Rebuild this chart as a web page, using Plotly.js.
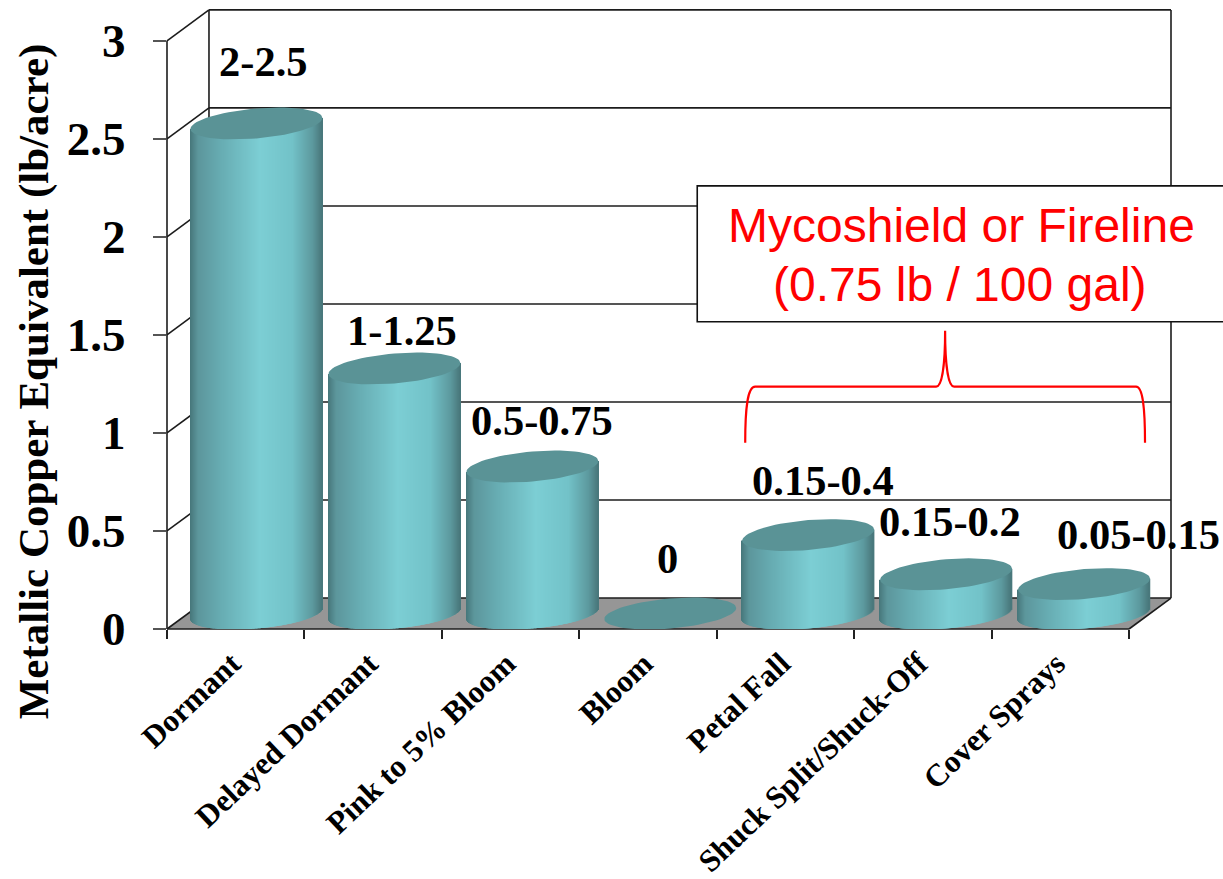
<!DOCTYPE html>
<html>
<head>
<meta charset="utf-8">
<script src="https://cdn.plot.ly/plotly-3.0.1.min.js"></script>
<style>html,body{margin:0;padding:0;background:#fff;overflow:hidden}#chart{width:1223px;height:879px}</style>
</head>
<body>
<div id="chart"></div>
<script>
// Seasonal copper rates by growth stage
const categories = ["Dormant", "Delayed Dormant", "Pink to 5% Bloom", "Bloom", "Petal Fall", "Shuck Split/Shuck-Off", "Cover Sprays"];
const upperRate = [2.5, 1.25, 0.75, 0, 0.4, 0.2, 0.15];
const rateLabels = ["2-2.5", "1-1.25", "0.5-0.75", "0", "0.15-0.4", "0.15-0.2", "0.05-0.15"];
const yTicks = [0, 0.5, 1, 1.5, 2, 2.5, 3];
const yTickText = ["0", "0.5", "1", "1.5", "2", "2.5", "3"];

// Page geometry of the pseudo-3D box
const W = 1223, H = 879;
const plotL = 166.5, plotT = 9, plotB = 629.5;
const catPx = 137.5, unitPx = 196.2, depthPxX = 42, depthPxY = 31;
const plotR = plotL + catPx * categories.length + depthPxX;
const depthX = depthPxX / catPx, depthY = depthPxY / unitPx;
const xMin = -0.5, xMax = categories.length - 0.5 + depthX;
const yMin = 0, yMax = (plotB - plotT) / unitPx;

const paperX = x => (x - xMin) / (xMax - xMin);
const paperY = y => (y - yMin) / (yMax - yMin);
const pxX = p => (p - plotL) / (plotR - plotL);
const pxY = p => (plotB - p) / (plotB - plotT);

// Cylinder proportions, in page pixels
const radiusPx = 66, minorPx = 15, tiltPx = 5.5, sliceCount = 132;
const firstCentrePx = 256, pitchPx = 138;
const centreOf = i => (firstCentrePx + pitchPx * i - plotL) / catPx + xMin;

const shadeStops = [
  [-1, [70, 118, 122]], [-0.88, [92, 150, 155]], [-0.5, [104, 174, 180]],
  [0.06, [124, 206, 212]], [0.55, [114, 194, 200]], [0.86, [92, 152, 157]], [1, [72, 118, 122]]
];
function shade(u) {
  for (let i = 1; i < shadeStops.length; i++) {
    const [u1, c1] = shadeStops[i], [u0, c0] = shadeStops[i - 1];
    if (u <= u1) {
      const t = (u - u0) / (u1 - u0);
      return `rgb(${c0.map((c, k) => Math.round(c + (c1[k] - c) * t)).join(",")})`;
    }
  }
  return "rgb(72,118,122)";
}

// Body of each cylinder: thin bars, each carrying one step of the shading
const sliceX = [], sliceBase = [], sliceH = [], sliceColor = [];
const sliceW = 1.5 / catPx;
categories.forEach((c, i) => {
  if (upperRate[i] <= 0) return;
  const cx = centreOf(i);
  for (let s = 0; s < sliceCount; s++) {
    const u = (s + 0.5) / sliceCount * 2 - 1;
    const lift = tiltPx * u / unitPx;
    const sag = minorPx * Math.sqrt(1 - u * u) / unitPx;
    const base = depthY / 2 - sag + lift;
    sliceX.push(cx + u * radiusPx / catPx);
    sliceBase.push(base);
    sliceH.push(upperRate[i] + sag);
    sliceColor.push(shade(u));
  }
});

// Cap of each cylinder: a tilted ellipse
const capX = [], capY = [];
categories.forEach((c, i) => {
  const cx = centreOf(i), cy = upperRate[i] + depthY / 2;
  for (let k = 0; k <= 72; k++) {
    const t = k / 72 * 2 * Math.PI;
    capX.push(cx + Math.cos(t) * radiusPx / catPx);
    capY.push(cy + (Math.sin(t) * minorPx + Math.cos(t) * tiltPx) / unitPx);
  }
  capX.push(null); capY.push(null);
});

const lineStyle = {color: "#1c1c1c", width: 1.6};
const frameLine = (x0, y0, x1, y1) => ({
  type: "line", xref: "paper", yref: "paper", layer: "below",
  x0: paperX(x0), y0: paperY(y0), x1: paperX(x1), y1: paperY(y1), line: lineStyle
});

const xLeft = xMin, xRight = categories.length - 0.5;
const shapes = [];
// Floor
shapes.push({
  type: "path", xref: "paper", yref: "paper", layer: "below", fillcolor: "#969696", line: {width: 0},
  path: `M${paperX(xLeft)},${paperY(0)} L${paperX(xLeft + depthX)},${paperY(depthY)} L${paperX(xRight + depthX)},${paperY(depthY)} L${paperX(xRight)},${paperY(0)} Z`
});
// Back wall gridlines and the slanted lines on the side wall
yTicks.forEach(t => {
  shapes.push(frameLine(xLeft + depthX, t + depthY, xRight + depthX, t + depthY));
  shapes.push(frameLine(xLeft, t, xLeft + depthX, t + depthY));
});
shapes.push(frameLine(xLeft, 0, xLeft, 3));
shapes.push(frameLine(xLeft + depthX, depthY, xLeft + depthX, 3 + depthY));
shapes.push(frameLine(xRight + depthX, depthY, xRight + depthX, 3 + depthY));
shapes.push(frameLine(xLeft, 0, xRight, 0));
shapes.push(frameLine(xRight, 0, xRight + depthX, depthY));

// Note box and the brace under it
shapes.push({
  type: "rect", xref: "paper", yref: "paper", layer: "above",
  x0: pxX(697), x1: pxX(1230), y0: pxY(322), y1: pxY(186),
  fillcolor: "#fff", line: {color: "#111", width: 1.6}
});
const P = (a, b) => `${pxX(a)},${pxY(b)}`;
shapes.push({
  type: "path", xref: "paper", yref: "paper", layer: "above", line: {color: "#ff0000", width: 2.2},
  path: `M${P(745, 443)} C${P(745, 410)} ${P(747, 387)} ${P(755, 387)} L${P(936, 387)} C${P(942, 387)} ${P(945, 365)} ${P(945, 331)} C${P(945, 365)} ${P(948, 387)} ${P(954, 387)} L${P(1136, 387)} C${P(1143, 387)} ${P(1145, 410)} ${P(1145, 443)}`
});

const serifBold = "'Liberation Serif', 'Times New Roman', serif";
const labelCentres = [[263, 62], [402, 331], [542, 421], [667, 559], [823, 481], [950, 522], [1138, 535]];
const annotations = rateLabels.map((txt, i) => ({
  xref: "paper", yref: "paper", x: pxX(labelCentres[i][0]), y: pxY(labelCentres[i][1]),
  xanchor: "center", yanchor: "middle", showarrow: false, text: `<b>${txt}</b>`,
  font: {family: serifBold, size: 42.5, color: "#000"}
}));
annotations.push({
  xref: "paper", yref: "paper", x: pxX(33), y: pxY(382), xanchor: "center", yanchor: "middle",
  showarrow: false, textangle: -90, text: "<b>Metallic Copper Equivalent (lb/acre)</b>",
  font: {family: serifBold, size: 43, color: "#000"}
});
annotations.push({
  xref: "paper", yref: "paper", x: pxX(961), y: pxY(226), xanchor: "center", yanchor: "middle",
  showarrow: false, text: "Mycoshield or Fireline",
  font: {family: "'Liberation Sans', Arial, sans-serif", size: 48, color: "#ff0000"}
});
annotations.push({
  xref: "paper", yref: "paper", x: pxX(960), y: pxY(285), xanchor: "center", yanchor: "middle",
  showarrow: false, text: "(0.75 lb / 100 gal)",
  font: {family: "'Liberation Sans', Arial, sans-serif", size: 48, color: "#ff0000"}
});

const traces = [
  {
    type: "bar", x: sliceX, base: sliceBase, y: sliceH, width: sliceW, hoverinfo: "skip",
    marker: {color: sliceColor, line: {width: 0}}, showlegend: false
  },
  {
    type: "scatter", mode: "lines", x: capX, y: capY, fill: "toself", fillcolor: "#5a9396",
    line: {width: 0, color: "#5a9396"}, hoverinfo: "skip", showlegend: false, cliponaxis: false
  }
];

const boundaries = categories.map((c, i) => i - 0.5).concat(xRight);
const layout = {
  width: W, height: H, autosize: false,
  margin: {l: plotL, r: W - plotR, t: plotT, b: H - plotB, pad: 0},
  paper_bgcolor: "#fff", plot_bgcolor: "rgba(0,0,0,0)",
  showlegend: false, barmode: "overlay", hovermode: false, dragmode: false,
  xaxis: {
    range: [xMin, xMax], showgrid: false, zeroline: false, showline: false, automargin: false,
    tickmode: "array", tickvals: categories.map((c, i) => i), ticktext: categories.map(c => `<b>${c}</b>`),
    tickangle: -43.5, ticks: "", ticklabelstandoff: 9, ticklabelshift: -4,
    tickfont: {family: serifBold, size: 31.3, color: "#000"},
    minor: {tickmode: "array", tickvals: boundaries, ticks: "outside", ticklen: 9, tickcolor: "#222", tickwidth: 1.5, showgrid: false}
  },
  yaxis: {
    range: [yMin, yMax], showgrid: false, zeroline: false, showline: false, automargin: false,
    tickmode: "array", tickvals: yTicks, ticktext: yTickText.map(t => `<b>${t}</b>`),
    ticks: "outside", ticklen: 13, tickcolor: "#555", tickwidth: 1.5, ticklabelstandoff: 18,
    tickfont: {family: serifBold, size: 47, color: "#000"}
  },
  shapes, annotations
};

Plotly.newPlot("chart", traces, layout, {displayModeBar: false, displaylogo: false});
</script>
</body>
</html>
